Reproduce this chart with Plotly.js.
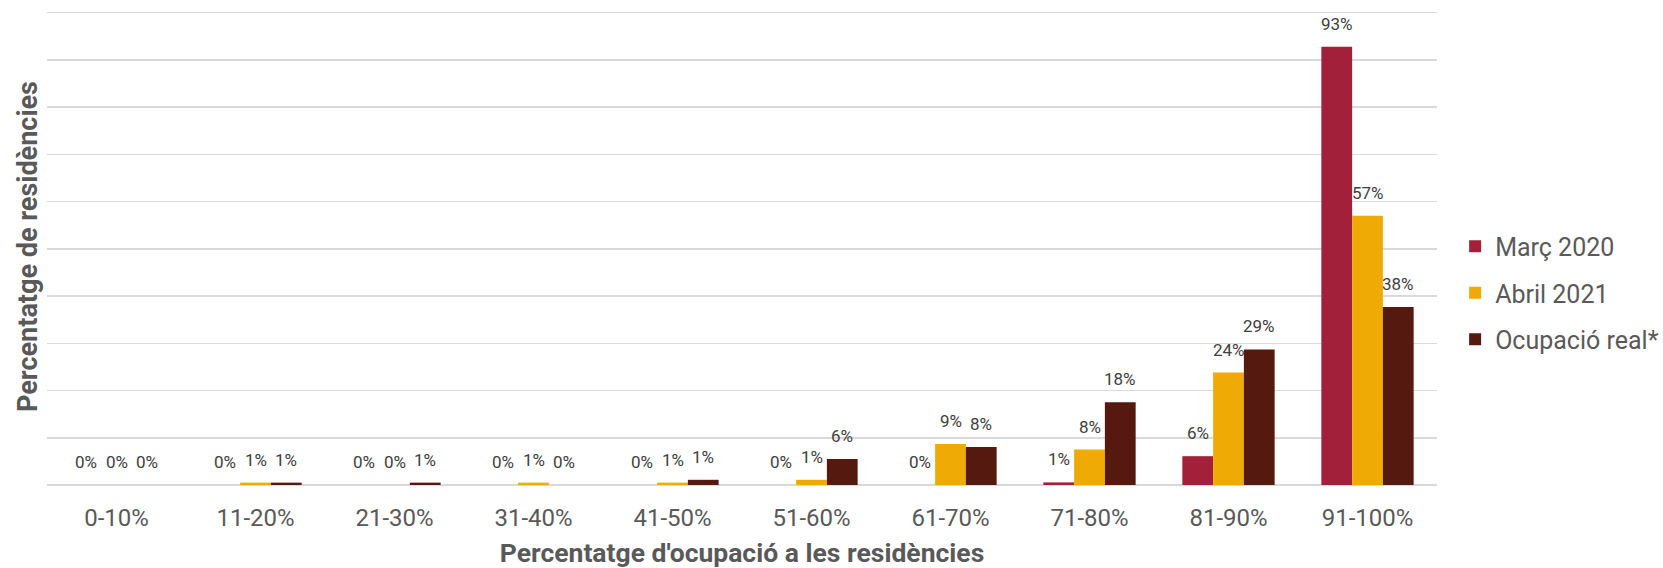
<!DOCTYPE html>
<html><head><meta charset="utf-8">
<script src="https://cdn.plot.ly/plotly-3.0.1.min.js"></script>
<style>html,body{margin:0;padding:0;background:#fff}#chart{width:1663px;height:568px}</style>
</head><body><div id="chart"></div>
<script>
const categories = ['0-10%','11-20%','21-30%','31-40%','41-50%','51-60%','61-70%','71-80%','81-90%','91-100%'];
const seriesNames = ['Març 2020','Abril 2021','Ocupació real*'];
const marc2020 = [0,0,0,0,0,0,0,0.55,6.1,92.8];
const abril2021 = [0,0.5,0,0.5,0.5,1.1,8.7,7.5,23.8,57];
const ocupacioReal = [0,0.5,0.5,0,1.1,5.5,8.05,17.5,28.7,37.7];
const colors = ['#A3203A','#EFAA06','#561910'];

const allSeries = [marc2020, abril2021, ocupacioReal];
const bargap = 0.336;
const barW = (1 - bargap) / allSeries.length;

const traces = allSeries.map((vals, k) => ({
  type: 'bar',
  name: seriesNames[k],
  x: categories,
  y: vals,
  marker: {color: colors[k]},
  legendgroup: 'g' + k,
  hoverinfo: 'skip'
}));

const annotations = [];
allSeries.forEach((vals, k) => {
  vals.forEach((v, i) => {
    annotations.push({
      x: i + (k - (allSeries.length - 1) / 2) * barW,
      y: v,
      xref: 'x', yref: 'y',
      text: Math.round(v) + '%',
      showarrow: false,
      yanchor: 'bottom',
      yshift: 11,
      font: {family: 'Roboto', size: 17, color: '#404040'}
    });
  });
});

const layout = {
  width: 1663, height: 568,
  margin: {l: 47, r: 226, t: 8, b: 83},
  paper_bgcolor: '#fff', plot_bgcolor: '#fff',
  font: {family: 'Roboto', color: '#595959'},
  barmode: 'group', bargap: bargap, bargroupgap: 0,
  showlegend: true,
  legend: {
    xref: 'container', yref: 'container',
    x: 0.875, xanchor: 'left', y: 0.484, yanchor: 'middle',
    font: {family: 'Roboto', size: 25, color: '#595959'},
    tracegroupgap: 11, bgcolor: 'rgba(0,0,0,0)'
  },
  xaxis: {
    type: 'category',
    tickfont: {family: 'Roboto', size: 24, color: '#595959'},
    showline: false, showgrid: false, ticks: '', ticklabelstandoff: 16,
    title: {text: "Percentatge d'ocupació a les residències", standoff: 18,
      font: {family: 'Roboto', size: 26.5, color: '#595959', weight: 'bold'}}
  },
  yaxis: {
    range: [0, 101], dtick: 10, showticklabels: false, ticks: '',
    gridcolor: '#d9d9d9', gridwidth: 1.5,
    zeroline: true, zerolinecolor: '#d9d9d9', zerolinewidth: 1.5,
    title: {text: 'Percentatge de residències', standoff: 0,
      font: {family: 'Roboto', size: 27, color: '#595959', weight: 'bold'}}
  },
  annotations: annotations
};

Plotly.newPlot('chart', traces, layout, {displayModeBar: false, staticPlot: true});
</script>
</body></html>
